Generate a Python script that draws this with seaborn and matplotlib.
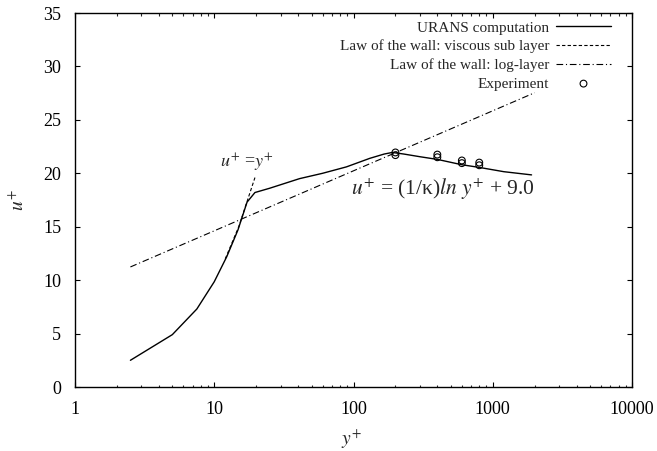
import matplotlib
matplotlib.use("Agg")
import matplotlib.pyplot as plt
import seaborn as sns
import numpy as np
import pandas as pd

# URANS computation
urans_y = [2.5, 5.0, 7.5, 10.0, 12.3, 14.8, 17.2, 19.6, 25, 41, 60, 89, 131, 166, 190, 230, 300, 400, 600, 800, 1200, 1900]
urans_u = [2.5, 4.9, 7.3, 9.85, 12.2, 14.7, 17.3, 18.2, 18.6, 19.5, 20.0, 20.6, 21.4, 21.8, 21.95, 21.8, 21.55, 21.3, 20.8, 20.55, 20.15, 19.85]

# Law of the wall: viscous sub layer (u+ = y+)
visc_y = [12.0, 15.0, 19.6]
visc_u = [12.0, 15.0, 19.6]

# Law of the wall: log layer u+ = (1/kappa) ln y+ + 9.0
kappa = 0.41
B = 9.0
log_y = [2.5, 10, 100, 1000, 2000]
log_u = [np.log(v) / kappa + B for v in log_y]

# Experiment
exp_y = [200, 200, 400, 400, 600, 600, 800, 800]
exp_u = [21.95, 21.7, 21.75, 21.5, 21.2, 20.95, 21.0, 20.75]

x_ticks = [1, 10, 100, 1000, 10000]
y_ticks = [0, 5, 10, 15, 20, 25, 30, 35]

sns.set_theme(style="ticks")
plt.rcParams["font.family"] = ["Liberation Serif", "DejaVu Serif"]
plt.rcParams["mathtext.fontset"] = "stix"

W, H = 657, 451
L, R, T, Bt = 75, 632, 13, 387
fig = plt.figure(figsize=(W / 100, H / 100), dpi=100)
ax = fig.add_axes([L / W, 1 - Bt / H, (R - L) / W, (Bt - T) / H])

df_u = pd.DataFrame({"y": urans_y, "u": urans_u})
df_v = pd.DataFrame({"y": visc_y, "u": visc_u})
df_l = pd.DataFrame({"y": log_y, "u": log_u})
df_e = pd.DataFrame({"y": exp_y, "u": exp_u})

sns.lineplot(data=df_u, x="y", y="u", ax=ax, color="black", lw=1.0,
             label="URANS computation", sort=False, estimator=None)
sns.lineplot(data=df_v, x="y", y="u", ax=ax, color="black", lw=0.8,
             label="Law of the wall: viscous sub layer", sort=False, estimator=None)
ax.lines[-1].set_linestyle((0, (3, 2)))
sns.lineplot(data=df_l, x="y", y="u", ax=ax, color="black", lw=0.8,
             label="Law of the wall: log-layer", sort=False, estimator=None)
ax.lines[-1].set_linestyle((0, (6, 2.5, 1, 2.5)))
sns.scatterplot(data=df_e, x="y", y="u", ax=ax, marker="o", s=24,
                facecolors="none", edgecolor="black", linewidth=0.8, label="Experiment")

ax.set_xscale("log")
ax.set_xlim(1, 10000)
ax.set_ylim(0, 35)
ax.set_xticks(x_ticks)
ax.set_xticklabels([str(t) for t in x_ticks])
ax.set_yticks(y_ticks)
ax.set_yticklabels([str(t) for t in y_ticks])
ax.tick_params(axis="both", which="major", direction="in", length=3.3, width=0.8,
               labelsize=13, top=True, right=True, pad=10, colors="black")
ax.tick_params(axis="x", which="minor", direction="in", length=1.8, width=0.8, top=True)
for s in ax.spines.values():
    s.set_visible(True)
    s.set_linewidth(1.0)
    s.set_color("black")

ax.set_xlabel("$y^{+}$", fontsize=14)
ax.set_ylabel("$u^{+}$", fontsize=14)
ax.xaxis.set_label_coords(0.497, -(439 - Bt) / (Bt - T))
ax.xaxis.label.set_va("center")
ax.yaxis.set_label_coords(-(L - 18) / (R - L), 0.5)
ax.yaxis.label.set_va("center")

ax.text(17.1, 21.0, "$u^{+}$ =$y^{+}$", fontsize=13, ha="center", va="center")
ax.text(440, 18.5, r"$u^{+}$ = (1/κ)$\it{ln}$ $y^{+}$ + 9.0", fontsize=15.5, ha="center", va="center")

leg = ax.legend(loc="upper right", frameon=False, markerfirst=False, fontsize=11,
                handlelength=3.6, handletextpad=0.45, labelspacing=0.32,
                borderaxespad=0, borderpad=0,
                bbox_to_anchor=(1 - 21 / (R - L), 1 - 8 / (Bt - T)))

fig.savefig("out.png", dpi=100)
